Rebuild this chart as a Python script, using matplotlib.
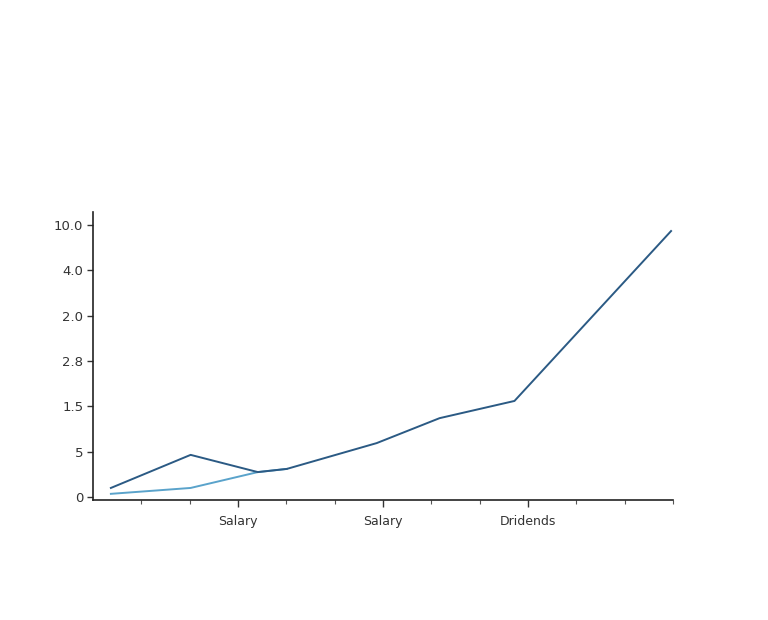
import numpy as np
import matplotlib
matplotlib.use("Agg")
import matplotlib.pyplot as plt

# values (tick-index units)
x_dark = [0.37, 2.02, 3.41, 4.01, 5.87, 7.17, 8.72, 11.96]
y_dark = [0.20, 0.93, 0.55, 0.62, 1.19, 1.74, 2.12, 5.87]
x_light = [0.37, 2.02, 3.41, 4.01]
y_light = [0.07, 0.20, 0.55, 0.62]

y_ticks = [0, 1, 2, 3, 4, 5, 6]
y_labels = ["0", "5", "1.5", "2.8", "2.0", "4.0", "10.0"]
x_major = [3, 6, 9]
x_labels = ["Salary", "Salary", "Dridends"]
x_minor = [1, 2, 4, 5, 7, 8, 10, 11, 12]

fig = plt.figure(figsize=(7.68, 6.2), dpi=100)
ax = fig.add_axes([93/768, 120/620, 580/768, 288/620])

ax.plot(x_light, y_light, color="#5aa3cb", lw=1.4)
ax.plot(x_dark, y_dark, color="#2b5a84", lw=1.4)

ax.set_xlim(0, 12)
ax.set_ylim(-0.066, 6.29)
ax.set_yticks(y_ticks)
ax.set_yticklabels(y_labels)
ax.set_xticks(x_major)
ax.set_xticklabels(x_labels)
ax.set_xticks(x_minor, minor=True)

for s in ["top", "right"]:
    ax.spines[s].set_visible(False)
for s in ["left", "bottom"]:
    ax.spines[s].set_color("#222222")
    ax.spines[s].set_linewidth(1.2)

ax.tick_params(axis="y", length=4, width=1, color="#333333", labelsize=9.5,
               labelcolor="#333333", pad=3)
ax.tick_params(axis="x", which="major", length=5, width=1, color="#333333",
               labelsize=9, labelcolor="#333333", pad=6)
ax.tick_params(axis="x", which="minor", length=3, width=0.8, color="#555555")

fig.savefig("out.png", dpi=100, facecolor="white")
